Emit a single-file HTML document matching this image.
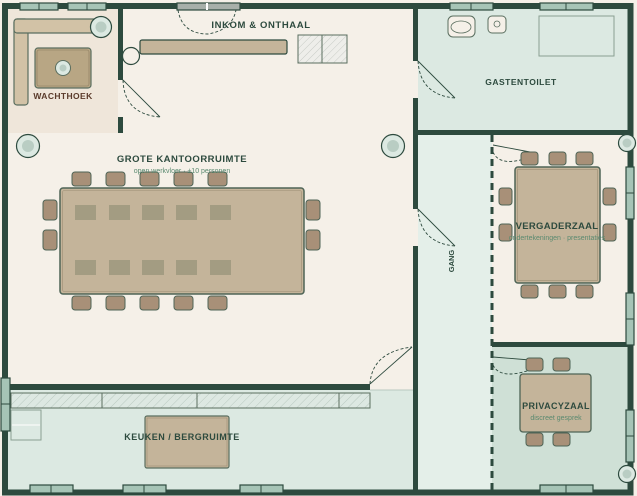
<!DOCTYPE html>
<html><head><meta charset="utf-8"><style>
html,body{margin:0;padding:0;background:#f5f0e8;}
svg{display:block;}
text{font-family:"Liberation Sans",sans-serif;}
</style></head><body>
<svg width="637" height="496" viewBox="0 0 637 496" xmlns="http://www.w3.org/2000/svg">
<defs>
<pattern id="h" width="6" height="6" patternUnits="userSpaceOnUse" patternTransform="rotate(45)">
<rect width="6" height="6" fill="#dde8e2"/><line x1="0" y1="0" x2="0" y2="6" stroke="#b9c9c0" stroke-width="1"/>
</pattern>
<pattern id="h2" width="5" height="5" patternUnits="userSpaceOnUse" patternTransform="rotate(45)">
<rect width="5" height="5" fill="#eeeeea"/><line x1="0" y1="0" x2="0" y2="5" stroke="#c8ccc6" stroke-width="1"/>
</pattern>
</defs>
<rect width="637" height="496" fill="#f5f0e8"/>
<rect x="8" y="9" width="112" height="124" fill="#efe6da"/>
<rect x="418" y="9" width="212" height="121" fill="#dce9e2"/>
<rect x="418" y="135" width="74" height="355" fill="#e4efe9"/>
<rect x="492" y="135" width="138" height="208" fill="#f5f0e8"/>
<rect x="492" y="346" width="138" height="144" fill="#cfe0d6"/>
<rect x="8" y="390" width="405" height="100" fill="#dce9e2"/>
<line x1="370" y1="390" x2="413" y2="390" stroke="#b9c9c0" stroke-width="1"/>

<rect x="5" y="6" width="625.5" height="486.5" fill="none" stroke="#2d4a3e" stroke-width="6"/>
<rect x="118" y="9" width="5" height="71" fill="#2d4a3e"/>
<rect x="118" y="117" width="5" height="16" fill="#2d4a3e"/>
<rect x="413" y="9" width="5" height="52" fill="#2d4a3e"/>
<rect x="413" y="98" width="5" height="111" fill="#2d4a3e"/>
<rect x="413" y="246" width="5" height="244" fill="#2d4a3e"/>
<rect x="418" y="130" width="212" height="5" fill="#2d4a3e"/>
<rect x="492" y="342" width="138" height="5" fill="#2d4a3e"/>
<rect x="5" y="384" width="365" height="6" fill="#2d4a3e"/>
<line x1="492" y1="135" x2="492" y2="490" stroke="#2d4a3e" stroke-width="3" stroke-dasharray="7,5"/>
<rect x="118" y="80" width="5" height="37" fill="#f5f0e8"/>
<rect x="413" y="61" width="5" height="37" fill="#f5f0e8"/>
<rect x="413" y="209" width="5" height="37" fill="#f5f0e8"/>

<g fill="#a6c4b6" stroke="#2d4a3e" stroke-width="1.2">
<rect x="20" y="3" width="38" height="7"/><rect x="68" y="3" width="38" height="7"/>
<rect x="450" y="3" width="43" height="7"/><rect x="540" y="3" width="53" height="7"/>
<rect x="30" y="485" width="43" height="8"/><rect x="123" y="485" width="43" height="8"/><rect x="240" y="485" width="43" height="8"/>
<rect x="540" y="485" width="53" height="8"/>
<rect x="626" y="167" width="8" height="52"/><rect x="626" y="293" width="8" height="52"/><rect x="626" y="410" width="8" height="52"/>
<rect x="1" y="378" width="9" height="53"/>
</g>
<g stroke="#2d4a3e" stroke-width="1">
<line x1="39" y1="3" x2="39" y2="10"/><line x1="87" y1="3" x2="87" y2="10"/>
<line x1="471" y1="3" x2="471" y2="10"/><line x1="566" y1="3" x2="566" y2="10"/>
<line x1="51" y1="485" x2="51" y2="493"/><line x1="144" y1="485" x2="144" y2="493"/><line x1="261" y1="485" x2="261" y2="493"/><line x1="566" y1="485" x2="566" y2="493"/>
<line x1="626" y1="193" x2="634" y2="193"/><line x1="626" y1="319" x2="634" y2="319"/><line x1="626" y1="436" x2="634" y2="436"/>
<line x1="1" y1="404" x2="10" y2="404"/>
</g>
<rect x="177" y="3" width="63" height="7" fill="#a8b0aa" stroke="#2d4a3e" stroke-width="1.2"/>
<rect x="206" y="3" width="2" height="7" fill="#fff"/>

<g fill="none" stroke="#2d4a3e" stroke-width="0.9">
<path d="M178 10 Q182 34 208 34 Q232 30 236 10" stroke-dasharray="3,2"/>
<line x1="123" y1="80" x2="160" y2="117"/><path d="M123 80 Q124 114 160 117" stroke-dasharray="3,2"/>
<line x1="418" y1="61" x2="455" y2="98"/><path d="M418 61 Q420 95 455 98" stroke-dasharray="3,2"/>
<line x1="418" y1="209" x2="455" y2="246"/><path d="M418 209 Q420 243 455 246" stroke-dasharray="3,2"/>
<line x1="370" y1="384" x2="412" y2="347"/><path d="M370 384 Q372 352 412 347" stroke-dasharray="3,2"/>
<line x1="493" y1="145" x2="530" y2="152"/><path d="M493 152 Q500 168 530 157" stroke-dasharray="3,2"/>
<line x1="493" y1="357" x2="530" y2="360"/><path d="M493 365 Q500 380 530 370" stroke-dasharray="3,2"/>
</g>

<g stroke="#5a6e5f" stroke-width="1.2">
<rect x="14" y="19" width="14" height="86" rx="3" fill="#d2c2a6"/>
<rect x="14" y="19" width="86" height="14" rx="3" fill="#d2c2a6"/>
<rect x="35" y="48" width="56" height="40" rx="3" fill="#b8a684"/>
</g>
<rect x="37" y="50" width="52" height="36" rx="2" fill="none" stroke="#8a7a5e" stroke-width="0.6"/>
<circle cx="63" cy="68" r="7.5" fill="#dce9e2" stroke="#5a6e5f"/><circle cx="63" cy="68" r="3.5" fill="#b9cdc3"/>
<text x="63" y="99" text-anchor="middle" font-size="8.5" font-weight="bold" fill="#5a3a2a" letter-spacing="0.4">WACHTHOEK</text>

<g fill="#dce9e2" stroke="#2d4a3e" stroke-width="1.2">
<circle cx="101" cy="27" r="10.5"/><circle cx="28" cy="146" r="11.5"/><circle cx="393" cy="146" r="11.5"/>
<circle cx="627" cy="143" r="8.5"/><circle cx="627" cy="474" r="8.5"/>
</g>
<g fill="#b9cdc3"><circle cx="101" cy="27" r="5.5"/><circle cx="28" cy="146" r="6"/><circle cx="393" cy="146" r="6"/><circle cx="627" cy="143" r="4.5"/><circle cx="627" cy="474" r="4.5"/></g>

<rect x="140" y="40" width="147" height="14" rx="2" fill="#c4b49a" stroke="#2d4a3e" stroke-width="1.2"/>
<circle cx="131" cy="56" r="8.5" fill="#f5f0e8" stroke="#2d4a3e" stroke-width="1.2"/>
<rect x="298" y="35" width="49" height="28" fill="url(#h2)" stroke="#5a6e5f" stroke-width="1"/>
<line x1="322" y1="35" x2="322" y2="63" stroke="#5a6e5f"/>
<text x="261" y="28" text-anchor="middle" font-size="9.5" font-weight="bold" fill="#2d4a3e" letter-spacing="0.6">INKOM &amp; ONTHAAL</text>

<text x="182" y="162" text-anchor="middle" font-size="9.5" font-weight="bold" fill="#2d4a3e" letter-spacing="0.5">GROTE KANTOORRUIMTE</text>
<g fill="#a89078" stroke="#4e6456" stroke-width="1">
<rect x="72" y="172" width="19" height="14" rx="3"/><rect x="106" y="172" width="19" height="14" rx="3"/><rect x="140" y="172" width="19" height="14" rx="3"/><rect x="174" y="172" width="19" height="14" rx="3"/><rect x="208" y="172" width="19" height="14" rx="3"/>
<rect x="72" y="296" width="19" height="14" rx="3"/><rect x="106" y="296" width="19" height="14" rx="3"/><rect x="140" y="296" width="19" height="14" rx="3"/><rect x="174" y="296" width="19" height="14" rx="3"/><rect x="208" y="296" width="19" height="14" rx="3"/>
<rect x="43" y="200" width="14" height="20" rx="3"/><rect x="43" y="230" width="14" height="20" rx="3"/>
<rect x="306" y="200" width="14" height="20" rx="3"/><rect x="306" y="230" width="14" height="20" rx="3"/>
</g>
<text x="182" y="173" text-anchor="middle" font-size="7" fill="#5a8a70">open werkvloer · ±10 personen</text>
<rect x="60" y="188" width="244" height="106" rx="3" fill="#c4b49a" stroke="#4e6456" stroke-width="1.5"/>
<rect x="62.5" y="190.5" width="239" height="101" rx="2" fill="none" stroke="#9c8e74" stroke-width="0.6"/>
<g fill="#a39c82">
<rect x="75" y="205" width="21" height="15"/><rect x="109" y="205" width="21" height="15"/><rect x="142" y="205" width="22" height="15"/><rect x="176" y="205" width="21" height="15"/><rect x="210" y="205" width="21" height="15"/>
<rect x="75" y="260" width="21" height="15"/><rect x="109" y="260" width="21" height="15"/><rect x="142" y="260" width="22" height="15"/><rect x="176" y="260" width="21" height="15"/><rect x="210" y="260" width="21" height="15"/>
</g>

<rect x="11" y="393" width="359" height="15" fill="url(#h)" stroke="#5a6e5f" stroke-width="1"/>
<g stroke="#5a6e5f"><line x1="102" y1="393" x2="102" y2="408"/><line x1="197" y1="393" x2="197" y2="408"/><line x1="339" y1="393" x2="339" y2="408"/></g>
<rect x="11" y="410" width="30" height="30" fill="#dce9e2" stroke="#8aa092" stroke-width="1"/>
<line x1="12" y1="425" x2="40" y2="425" stroke="#eef4f0" stroke-width="2"/>
<rect x="145" y="416" width="84" height="52" rx="2" fill="#c4b49a" stroke="#5a6e5f" stroke-width="1.2"/>
<rect x="147" y="418" width="80" height="48" fill="none" stroke="#9c8e74" stroke-width="0.6"/>
<text x="182" y="440" text-anchor="middle" font-size="9" font-weight="bold" fill="#2d4a3e" letter-spacing="0.5">KEUKEN / BERGRUIMTE</text>

<rect x="448" y="16" width="27" height="21" rx="5" fill="#f5f0e8" stroke="#5a6e5f"/>
<ellipse cx="461" cy="27" rx="10" ry="6" fill="none" stroke="#5a6e5f" stroke-width="0.8"/>
<rect x="488" y="16" width="18" height="17" rx="4" fill="#f5f0e8" stroke="#5a6e5f"/>
<circle cx="497" cy="24" r="3" fill="none" stroke="#5a6e5f" stroke-width="0.8"/>
<rect x="539" y="16" width="75" height="40" fill="none" stroke="#8aa092" stroke-width="1"/>
<text x="521" y="85" text-anchor="middle" font-size="8.5" font-weight="bold" fill="#2d4a3e" letter-spacing="0.5">GASTENTOILET</text>

<text transform="translate(454,261) rotate(-90)" text-anchor="middle" font-size="7.5" font-weight="bold" fill="#2d4a3e">GANG</text>

<g fill="#a89078" stroke="#4e6456" stroke-width="1">
<rect x="521" y="152" width="17" height="13" rx="3"/><rect x="549" y="152" width="17" height="13" rx="3"/><rect x="576" y="152" width="17" height="13" rx="3"/>
<rect x="521" y="285" width="17" height="13" rx="3"/><rect x="549" y="285" width="17" height="13" rx="3"/><rect x="576" y="285" width="17" height="13" rx="3"/>
<rect x="499" y="188" width="13" height="17" rx="3"/><rect x="499" y="224" width="13" height="17" rx="3"/>
<rect x="603" y="188" width="13" height="17" rx="3"/><rect x="603" y="224" width="13" height="17" rx="3"/>
</g>
<rect x="515" y="167" width="85" height="116" rx="3" fill="#c4b49a" stroke="#4e6456" stroke-width="1.5"/>
<rect x="517.5" y="169.5" width="80" height="111" fill="none" stroke="#9c8e74" stroke-width="0.6"/>
<text x="557" y="229" text-anchor="middle" font-size="9.5" font-weight="bold" fill="#2d4a3e" letter-spacing="0.3">VERGADERZAAL</text>
<text x="557" y="240" text-anchor="middle" font-size="7" fill="#5a8a70">ondertekeningen · presentaties</text>

<g fill="#a89078" stroke="#4e6456" stroke-width="1">
<rect x="526" y="358" width="17" height="13" rx="3"/><rect x="553" y="358" width="17" height="13" rx="3"/>
<rect x="526" y="433" width="17" height="13" rx="3"/><rect x="553" y="433" width="17" height="13" rx="3"/>
</g>
<rect x="520" y="374" width="71" height="58" rx="3" fill="#c4b49a" stroke="#4e6456" stroke-width="1.3"/>
<text x="556" y="409" text-anchor="middle" font-size="9" font-weight="bold" fill="#2d4a3e" letter-spacing="0.4">PRIVACYZAAL</text>
<text x="556" y="420" text-anchor="middle" font-size="7" fill="#5a8a70">discreet gesprek</text>
</svg>
</body></html>
